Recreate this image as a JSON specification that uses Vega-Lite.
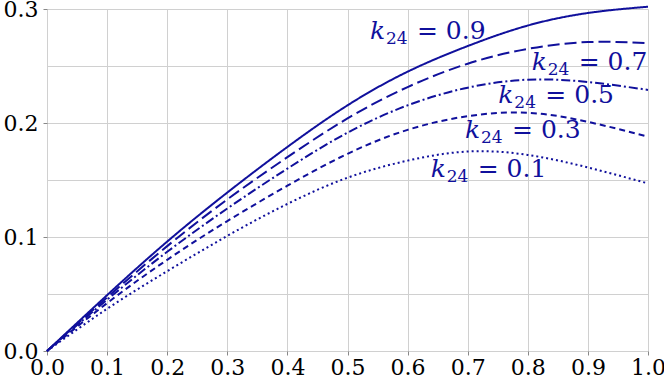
{
  "$schema": "https://vega.github.io/schema/vega-lite/v6.json",
  "width": 601,
  "height": 342,
  "autosize": "none",
  "padding": {"left": 47, "top": 9, "right": 16, "bottom": 33},
  "background": "white",
  "config": {
    "view": {"stroke": null},
    "axis": {"labelFont": "DejaVu Serif", "labelFontSize": 22, "labelColor": "black", "gridColor": "#d0d0d0", "gridWidth": 1, "tickColor": "#888888", "tickSize": 4, "domain": false, "title": null, "labelOverlap": false, "labelFlush": false}
  },
  "datasets": {
    "curves": [
      {"x": 0.0, "y": 0.0, "k": "0.9"}, {"x": 0.1, "y": 0.049, "k": "0.9"}, {"x": 0.2, "y": 0.096, "k": "0.9"}, {"x": 0.3, "y": 0.139, "k": "0.9"}, {"x": 0.4, "y": 0.179, "k": "0.9"}, {"x": 0.5, "y": 0.2155, "k": "0.9"}, {"x": 0.6, "y": 0.245, "k": "0.9"}, {"x": 0.7, "y": 0.2675, "k": "0.9"}, {"x": 0.8, "y": 0.2855, "k": "0.9"}, {"x": 0.9, "y": 0.2965, "k": "0.9"}, {"x": 1.0, "y": 0.302, "k": "0.9"},
      {"x": 0.0, "y": 0.0, "k": "0.7"}, {"x": 0.1, "y": 0.047, "k": "0.7"}, {"x": 0.2, "y": 0.092, "k": "0.7"}, {"x": 0.3, "y": 0.133, "k": "0.7"}, {"x": 0.4, "y": 0.170, "k": "0.7"}, {"x": 0.5, "y": 0.204, "k": "0.7"}, {"x": 0.6, "y": 0.2315, "k": "0.7"}, {"x": 0.7, "y": 0.252, "k": "0.7"}, {"x": 0.8, "y": 0.265, "k": "0.7"}, {"x": 0.9, "y": 0.271, "k": "0.7"}, {"x": 1.0, "y": 0.270, "k": "0.7"},
      {"x": 0.0, "y": 0.0, "k": "0.5"}, {"x": 0.1, "y": 0.045, "k": "0.5"}, {"x": 0.2, "y": 0.087, "k": "0.5"}, {"x": 0.3, "y": 0.125, "k": "0.5"}, {"x": 0.4, "y": 0.160, "k": "0.5"}, {"x": 0.5, "y": 0.1915, "k": "0.5"}, {"x": 0.6, "y": 0.2155, "k": "0.5"}, {"x": 0.7, "y": 0.231, "k": "0.5"}, {"x": 0.8, "y": 0.238, "k": "0.5"}, {"x": 0.9, "y": 0.236, "k": "0.5"}, {"x": 1.0, "y": 0.229, "k": "0.5"},
      {"x": 0.0, "y": 0.0, "k": "0.3"}, {"x": 0.1, "y": 0.042, "k": "0.3"}, {"x": 0.2, "y": 0.080, "k": "0.3"}, {"x": 0.3, "y": 0.114, "k": "0.3"}, {"x": 0.4, "y": 0.145, "k": "0.3"}, {"x": 0.5, "y": 0.173, "k": "0.3"}, {"x": 0.6, "y": 0.194, "k": "0.3"}, {"x": 0.7, "y": 0.206, "k": "0.3"}, {"x": 0.8, "y": 0.209, "k": "0.3"}, {"x": 0.9, "y": 0.201, "k": "0.3"}, {"x": 1.0, "y": 0.188, "k": "0.3"},
      {"x": 0.0, "y": 0.0, "k": "0.1"}, {"x": 0.1, "y": 0.037, "k": "0.1"}, {"x": 0.2, "y": 0.070, "k": "0.1"}, {"x": 0.3, "y": 0.101, "k": "0.1"}, {"x": 0.4, "y": 0.129, "k": "0.1"}, {"x": 0.5, "y": 0.152, "k": "0.1"}, {"x": 0.6, "y": 0.167, "k": "0.1"}, {"x": 0.7, "y": 0.175, "k": "0.1"}, {"x": 0.8, "y": 0.172, "k": "0.1"}, {"x": 0.9, "y": 0.161, "k": "0.1"}, {"x": 1.0, "y": 0.147, "k": "0.1"}
    ],
    "labels": [
      {"lx": 0.5374, "ly": 0.2737, "val": "=  0.9"},
      {"lx": 0.8065, "ly": 0.2465, "val": "=  0.7"},
      {"lx": 0.751, "ly": 0.2173, "val": "=  0.5"},
      {"lx": 0.6955, "ly": 0.1866, "val": "=  0.3"},
      {"lx": 0.6384, "ly": 0.1529, "val": "=  0.1"}
    ]
  },
  "layer": [
    {
      "data": {"name": "curves"},
      "mark": {"type": "line", "color": "#10109c", "strokeWidth": 2, "interpolate": "natural", "clip": false},
      "encoding": {
        "x": {"field": "x", "type": "quantitative", "scale": {"domain": [0, 1], "nice": false, "zero": false},
              "axis": {"values": [0, 0.1, 0.2, 0.3, 0.4, 0.5, 0.6, 0.7, 0.8, 0.9, 1.0], "format": ".1f", "labelPadding": 2}},
        "y": {"field": "y", "type": "quantitative", "scale": {"domain": [0, 0.3], "nice": false},
              "axis": {"values": [0, 0.05, 0.1, 0.15, 0.2, 0.25, 0.3],
                       "labelExpr": "abs(datum.value*10 - round(datum.value*10)) < 0.001 ? format(datum.value, '.1f') : ''",
                       "tickOpacity": {"condition": {"test": "abs(datum.value*10 - round(datum.value*10)) < 0.001", "value": 1}, "value": 0},
                       "labelPadding": 5}},
        "strokeDash": {"field": "k", "type": "nominal",
                       "scale": {"domain": ["0.9", "0.7", "0.5", "0.3", "0.1"], "range": [[1, 0], [12, 5], [9, 3, 2, 3], [6, 4], [2, 3]]},
                       "legend": null},
        "detail": {"field": "k"}
      }
    },
    {
      "data": {"name": "labels"},
      "mark": {"type": "text", "font": "DejaVu Serif", "fontSize": 25, "fontStyle": "italic", "color": "#10109c", "align": "left", "baseline": "alphabetic"},
      "encoding": {
        "x": {"field": "lx", "type": "quantitative"},
        "y": {"field": "ly", "type": "quantitative"},
        "text": {"value": "k"}
      }
    },
    {
      "data": {"name": "labels"},
      "mark": {"type": "text", "font": "DejaVu Serif", "fontSize": 17, "color": "#10109c", "align": "left", "baseline": "alphabetic", "dx": 16, "dy": 5},
      "encoding": {
        "x": {"field": "lx", "type": "quantitative"},
        "y": {"field": "ly", "type": "quantitative"},
        "text": {"value": "24"}
      }
    },
    {
      "data": {"name": "labels"},
      "mark": {"type": "text", "font": "DejaVu Serif", "fontSize": 25, "color": "#10109c", "align": "left", "baseline": "alphabetic", "dx": 47},
      "encoding": {
        "x": {"field": "lx", "type": "quantitative"},
        "y": {"field": "ly", "type": "quantitative"},
        "text": {"field": "val", "type": "nominal"}
      }
    }
  ]
}
